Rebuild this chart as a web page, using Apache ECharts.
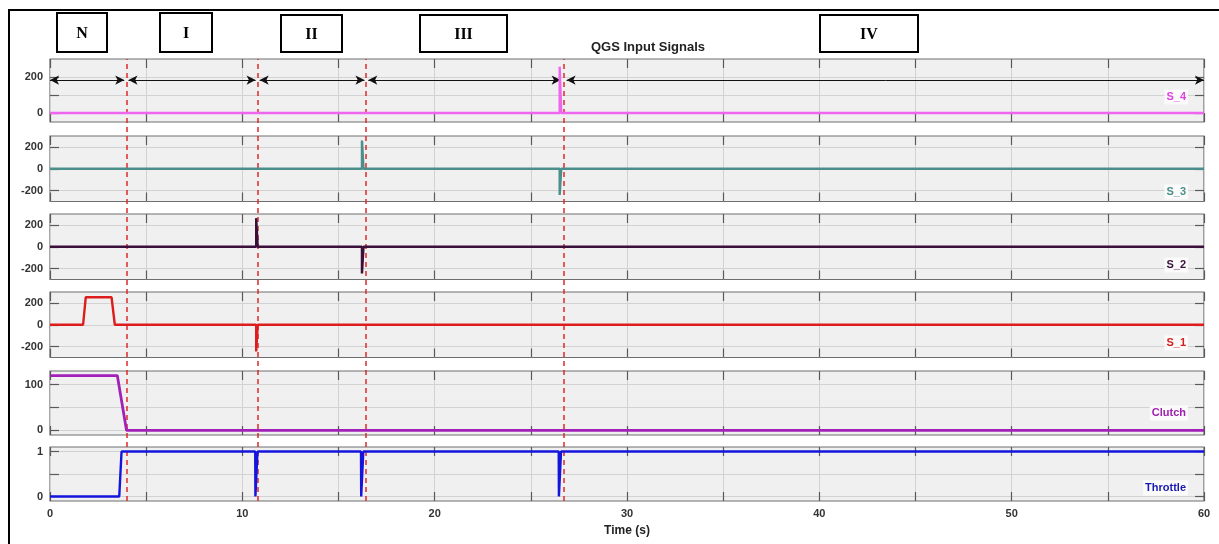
<!DOCTYPE html>
<html>
<head>
<meta charset="utf-8">
<script src="https://cdn.jsdelivr.net/npm/echarts@6/dist/echarts.min.js"></script>
<style>html,body{margin:0;padding:0;background:#fff}#chart{width:1219px;height:544px}</style>
</head>
<body>
<div id="chart"></div>
<script>
// ---------- DATA ----------
const chartTitle = 'QGS Input Signals';
const xAxisName = 'Time (s)';
const phaseNames = ['N', 'I', 'II', 'III', 'IV'];
const seriesNames = ['S_4', 'S_3', 'S_2', 'S_1', 'Clutch', 'Throttle'];

const s4Time = [0, 26.5, 26.5, 26.58, 26.58, 60];
const s4Val  = [0, 0, 257, 257, 0, 0];
const s3Time = [0, 16.22, 16.22, 16.3, 16.3, 26.5, 26.5, 26.58, 26.58, 60];
const s3Val  = [0, 0, 258, 258, 0, 0, -240, -240, 0, 0];
const s2Time = [0, 10.72, 10.72, 10.8, 10.8, 16.22, 16.22, 16.3, 16.3, 60];
const s2Val  = [0, 0, 262, 262, 0, 0, -245, -245, 0, 0];
const s1Time = [0, 1.72, 1.86, 3.2, 3.37, 10.72, 10.72, 10.8, 10.8, 60];
const s1Val  = [0, 0, 252, 252, 0, 0, -245, -245, 0, 0];
const clutchTime = [0, 3.5, 3.98, 60];
const clutchVal  = [120, 120, 0, 0];
const throttleTime = [0, 3.6, 3.72, 10.67, 10.68, 10.78, 10.79, 16.17, 16.18, 16.28, 16.29, 26.45, 26.46, 26.56, 26.57, 60];
const throttleVal  = [0, 0, 1, 1, 0, 0, 1, 1, 0, 0, 1, 1, 0, 0, 1, 1];

// phase boundaries (red dashed) and phase arrows (on S_4 panel)
const dividerTimes = [3.98, 10.8, 16.4, 26.72];
const arrowStart = [0, 4.08, 10.9, 16.55, 26.86];
const arrowEnd   = [3.86, 10.69, 16.35, 26.55, 60];
const arrowLevel = 183;

// y-axis ranges / ticks / labels per panel
const yMins = [-50, -300, -300, -300, -10, -0.1];
const yMaxs = [300, 300, 300, 300, 130, 1.1];
const yTicks = [[0, 100, 200], [-200, 0, 200], [-200, 0, 200], [-200, 0, 200], [0, 50, 100], [0, 0.5, 1]];
const yLabels = [[0, 200], [-200, 0, 200], [-200, 0, 200], [-200, 0, 200], [0, 100], [0, 1]];
const xTickLabels = [0, 10, 20, 30, 40, 50, 60];

// ---------- STYLE / LAYOUT ----------
const lineColors = ['#ee66ee', '#4a8f8c', '#3a0f3a', '#dd1c1c', '#a020b8', '#1414dc'];
const labelColors = ['#e040e0', '#4a8f8c', '#3a0f3a', '#d42020', '#a020b0', '#1a1ab0'];
const panelTop = [59, 136, 214, 292, 371, 447];
const panelHeight = [63, 65.5, 65.5, 65.5, 64, 54];
const labelY = [97, 192, 265, 343, 413, 488];
const PL = 50, PW = 1154;
const phaseBoxes = [[57, 13, 50, 39], [160, 13, 52, 39], [281, 15, 61, 37], [420, 15, 87, 37], [820, 15, 98, 37]];

const allTimes = [s4Time, s3Time, s2Time, s1Time, clutchTime, throttleTime];
const allVals = [s4Val, s3Val, s2Val, s1Val, clutchVal, throttleVal];

const font = 'Liberation Sans, Arial, sans-serif';
const grids = [], xAxes = [], yAxes = [], series = [];
const tickStyle = { show: true, inside: true, length: 9, lineStyle: { color: '#5a5a5a', width: 1.2 } };
const noLine = { show: false, onZero: false };

for (let i = 0; i < 6; i++) {
  grids.push({ left: PL, width: PW, top: panelTop[i], height: panelHeight[i], show: true,
    backgroundColor: '#f0f0f0', borderColor: '#6e6e6e', borderWidth: 1.2 });
}
for (let i = 0; i < 6; i++) {
  xAxes.push({ type: 'value', gridIndex: i, min: 0, max: 60, interval: 5, position: 'bottom',
    axisLine: noLine, axisTick: tickStyle,
    splitLine: { show: true, lineStyle: { color: '#d2d2d2', width: 1 } },
    axisLabel: { show: i === 5, margin: 7, color: '#333', fontWeight: 'bold', fontSize: 11, fontFamily: font,
      customValues: xTickLabels, formatter: v => String(v) },
    name: i === 5 ? xAxisName : '', nameLocation: 'middle', nameGap: 24,
    nameTextStyle: { color: '#222', fontWeight: 'bold', fontSize: 12, fontFamily: font } });
}
for (let i = 0; i < 6; i++) {
  xAxes.push({ type: 'value', gridIndex: i, min: 0, max: 60, interval: 5, position: 'top',
    axisLine: noLine, axisTick: tickStyle, splitLine: { show: false }, axisLabel: { show: false } });
}
for (let i = 0; i < 6; i++) {
  yAxes.push({ type: 'value', gridIndex: i, min: yMins[i], max: yMaxs[i], position: 'left',
    axisLine: noLine,
    axisTick: Object.assign({}, tickStyle, { customValues: yTicks[i] }),
    splitLine: { show: true, lineStyle: { color: '#d2d2d2', width: 1 } },
    axisLabel: { margin: 7, color: '#333', fontWeight: 'bold', fontSize: 11, fontFamily: font,
      customValues: yLabels[i], formatter: v => String(v) } });
}
for (let i = 0; i < 6; i++) {
  yAxes.push({ type: 'value', gridIndex: i, min: yMins[i], max: yMaxs[i], position: 'right',
    axisLine: noLine,
    axisTick: Object.assign({}, tickStyle, { customValues: yTicks[i] }),
    splitLine: { show: false }, axisLabel: { show: false } });
}
for (let i = 0; i < 6; i++) {
  series.push({ type: 'line', name: seriesNames[i], xAxisIndex: i, yAxisIndex: i,
    data: allTimes[i].map((t, k) => [t, allVals[i][k]]),
    showSymbol: false, symbol: 'none', z: 5,
    lineStyle: { color: lineColors[i], width: i === 4 ? 2.8 : 2.4 } });
}
// phase arrows on top panel
series.push({ type: 'line', xAxisIndex: 0, yAxisIndex: 0, data: [], silent: true, z: 6,
  markLine: { silent: true, animation: false, symbol: ['arrow', 'arrow'], symbolSize: [7, 9],
    label: { show: false }, lineStyle: { color: '#111', width: 1, type: 'solid' },
    data: arrowStart.map((s, k) => [{ coord: [s, arrowLevel] }, { coord: [arrowEnd[k], arrowLevel] }]) } });

// overlay grid spanning all panels for dashed dividers
grids.push({ left: PL, width: PW, top: panelTop[0], height: panelTop[5] + panelHeight[5] - panelTop[0], show: false });
xAxes.push({ type: 'value', gridIndex: 6, min: 0, max: 60, show: false });
yAxes.push({ type: 'value', gridIndex: 6, min: 0, max: 1, show: false });
series.push({ type: 'line', xAxisIndex: 12, yAxisIndex: 12, data: [], silent: true, z: 10,
  markLine: { silent: true, animation: false, symbol: 'none', label: { show: false },
    lineStyle: { color: '#e02828', width: 1.5, type: [5, 4] },
    data: dividerTimes.map(t => ({ xAxis: t })) } });

const graphics = [
  { type: 'rect', shape: { x: 9, y: 10, width: 1230, height: 560 }, style: { fill: 'none', stroke: '#000', lineWidth: 2 }, z: 0 },
  { type: 'text', x: 648, y: 47, style: { text: chartTitle, fill: '#222', font: 'bold 13px ' + font, textAlign: 'center', textVerticalAlign: 'middle' }, z: 20 }
];
phaseBoxes.forEach((b, k) => {
  graphics.push({ type: 'rect', shape: { x: b[0], y: b[1], width: b[2], height: b[3] },
    style: { fill: '#fff', stroke: '#000', lineWidth: 2 }, z: 20 });
  graphics.push({ type: 'text', x: b[0] + b[2] / 2, y: b[1] + b[3] / 2 + 1,
    style: { text: phaseNames[k], fill: '#000', font: 'bold 16px Liberation Serif, Times New Roman, serif',
      textAlign: 'center', textVerticalAlign: 'middle' }, z: 21 });
});
seriesNames.forEach((n, k) => {
  graphics.push({ type: 'text', x: 1188, y: labelY[k],
    style: { text: n, fill: labelColors[k], font: 'bold 11px ' + font, textAlign: 'right', textVerticalAlign: 'middle',
      backgroundColor: 'rgba(252,252,252,0.9)', padding: [2, 2, 2, 2] }, z: 30 });
});

const chart = echarts.init(document.getElementById('chart'), null, { renderer: 'canvas' });
chart.setOption({
  animation: false,
  backgroundColor: '#ffffff',
  grid: grids, xAxis: xAxes, yAxis: yAxes, series: series,
  graphic: graphics
});
</script>
</body>
</html>
